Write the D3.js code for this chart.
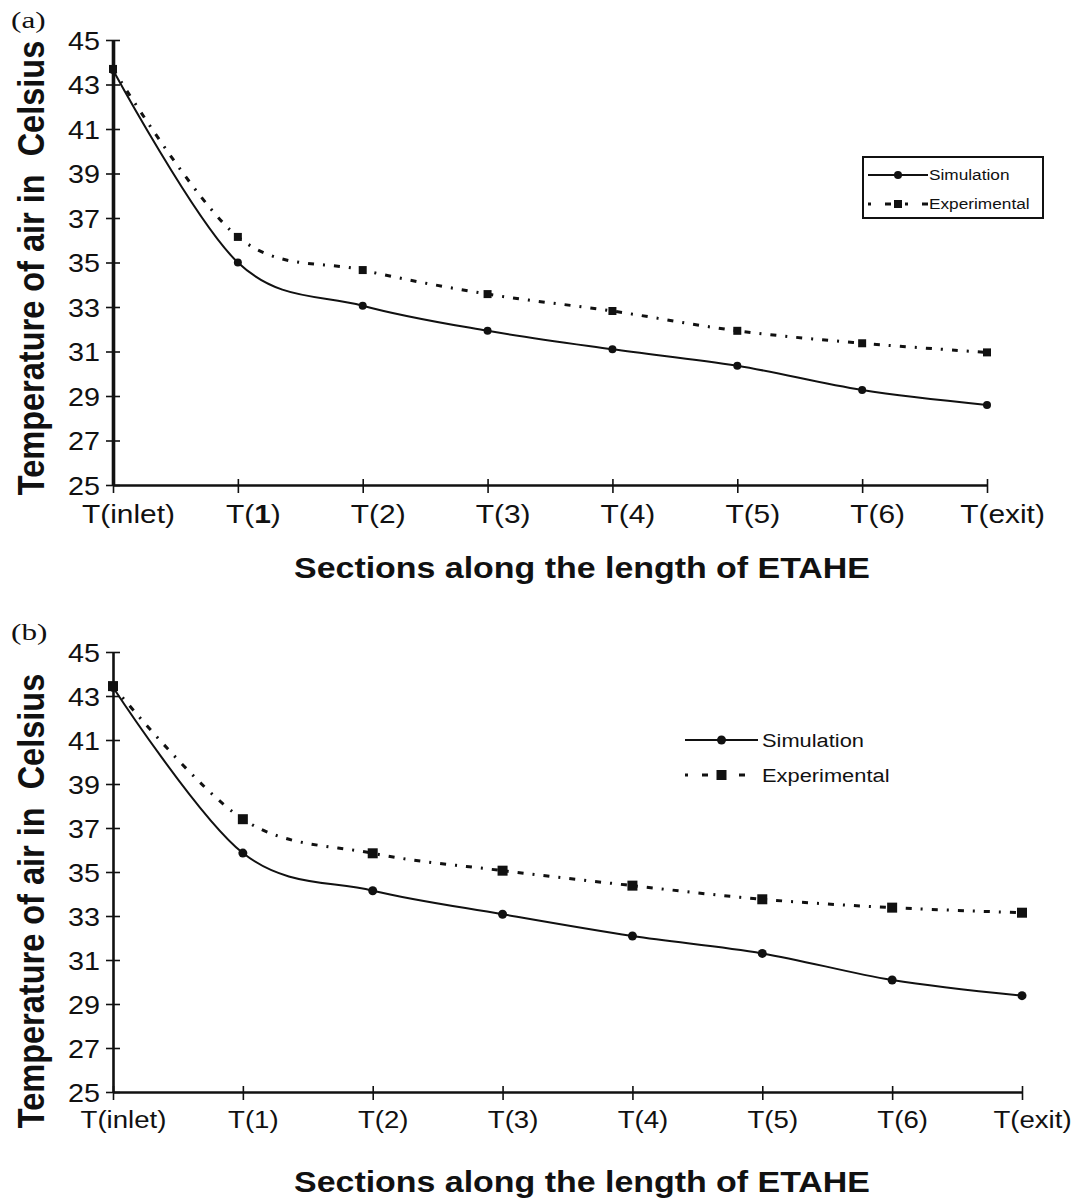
<!DOCTYPE html>
<html>
<head>
<meta charset="utf-8">
<script src="https://cdn.jsdelivr.net/npm/d3@7"></script>
<style>
  html, body { margin: 0; padding: 0; background: #fff; }
  svg { display: block; }
  text { font-family: "Liberation Sans", Arial, sans-serif; fill: #111; }
</style>
</head>
<body>
<svg id="fig" width="1082" height="1201"></svg>
<script>
// Sections along the earth-to-air heat exchanger
const sections = ["T(inlet)", "T(1)", "T(2)", "T(3)", "T(4)", "T(5)", "T(6)", "T(exit)"];
const yTicks = [25, 27, 29, 31, 33, 35, 37, 39, 41, 43, 45];

// Panel (a): air temperature, °C
const simA = [43.65, 35.0, 33.06, 31.93, 31.1, 30.36, 29.27, 28.6];
const expA = [43.7, 36.15, 34.66, 33.58, 32.82, 31.93, 31.37, 30.96];

// Panel (b): air temperature, °C
const simB = [43.4, 35.86, 34.15, 33.08, 32.09, 31.3, 30.09, 29.38];
const expB = [43.45, 37.4, 35.85, 35.06, 34.38, 33.76, 33.38, 33.15];

const svg = d3.select("#fig");
const SX = 1.15; // horizontal widening of the lettering

function panel(cfg) {
  const g = svg.append("g");
  const x = d3.scalePoint().domain(sections).range([cfg.x0, cfg.x1]);
  const y = d3.scaleLinear().domain([25, 45]).range([cfg.yBottom, cfg.yTop]);

  // panel letter
  g.append("text")
    .attr("transform", `translate(11,${cfg.letterY}) scale(1.3,1)`)
    .style("font-family", "'Liberation Serif', 'Times New Roman', serif")
    .style("font-size", "24px").text(cfg.letter);

  // y axis
  const yAxis = d3.axisLeft(y).tickValues(yTicks).tickSizeInner(7).tickSizeOuter(0);
  const ya = g.append("g").attr("transform", `translate(${cfg.x0},0)`).call(yAxis);
  ya.select(".domain").attr("stroke", "#111").attr("stroke-width", cfg.yAxisWidth);
  ya.selectAll(".tick line").attr("x1", -7).attr("x2", 7).attr("stroke", "#111").attr("stroke-width", 1.6);
  ya.selectAll(".tick text")
    .attr("x", -13 / SX).attr("dy", "0.36em")
    .attr("transform", `scale(${SX},1)`)
    .style("font-size", "25px").attr("fill", "#111")
    .style("font-family", "'Liberation Sans', Arial, sans-serif");

  // x axis
  const xAxis = d3.axisBottom(x).tickSizeInner(6).tickSizeOuter(0);
  const xa = g.append("g").attr("transform", `translate(0,${cfg.yBottom})`).call(xAxis);
  xa.select(".domain").attr("stroke", "#111").attr("stroke-width", 2.4);
  xa.selectAll(".tick line").attr("y1", -6).attr("y2", 8).attr("stroke", "#111").attr("stroke-width", 1.6);
  xa.selectAll(".tick text")
    .attr("y", cfg.xTickBase).attr("dy", 0)
    .attr("transform", `translate(${cfg.xTickShift},0) scale(${SX},1)`)
    .style("font-size", cfg.xTickFs + "px").attr("fill", "#111")
    .style("font-family", "'Liberation Sans', Arial, sans-serif");
  if (cfg.boldOne) {
    xa.selectAll(".tick text").filter(d => d === "T(1)").each(function () {
      const t = d3.select(this).text("");
      t.append("tspan").text("T(");
      t.append("tspan").style("font-weight", "bold").text("1");
      t.append("tspan").text(")");
    });
  }

  // axis titles
  g.append("text")
    .attr("transform", `translate(44,${cfg.yLabelY}) rotate(-90) scale(1,1.15)`)
    .attr("text-anchor", "middle").style("font-weight", "bold").style("font-size", "32.5px")
    .attr("xml:space", "preserve")
    .text("Temperature of air in  Celsius");
  g.append("text")
    .attr("transform", `translate(582,${cfg.xLabelY}) scale(1.17,1)`)
    .attr("text-anchor", "middle").style("font-weight", "bold").style("font-size", "29px")
    .text("Sections along the length of ETAHE");

  const line = d3.line().x((d, i) => x(sections[i])).y(d => y(d)).curve(d3.curveCardinal.tension(0));

  // experimental series: dash-dot with squares
  g.append("path").datum(cfg.exp).attr("d", line).attr("fill", "none")
    .attr("stroke", "#111").attr("stroke-width", cfg.expWidth)
    .attr("stroke-dasharray", "6,9,2,9");
  g.selectAll(".sq").data(cfg.exp).join("rect")
    .attr("x", (d, i) => x(sections[i]) - cfg.sq / 2).attr("y", d => y(d) - cfg.sq / 2)
    .attr("width", cfg.sq).attr("height", cfg.sq).attr("fill", "#111");

  // simulation series: solid with circles
  g.append("path").datum(cfg.sim).attr("d", line).attr("fill", "none")
    .attr("stroke", "#111").attr("stroke-width", 2);
  g.selectAll(".dot").data(cfg.sim).join("circle")
    .attr("cx", (d, i) => x(sections[i])).attr("cy", d => y(d)).attr("r", cfg.r).attr("fill", "#111");

  // legend
  const L = cfg.legend;
  const lg = g.append("g");
  if (L.box) {
    lg.append("rect").attr("x", L.box[0]).attr("y", L.box[1]).attr("width", L.box[2]).attr("height", L.box[3])
      .attr("fill", "#fff").attr("stroke", "#111").attr("stroke-width", 2);
  }
  lg.append("line").attr("x1", L.x1).attr("x2", L.x2).attr("y1", L.y1).attr("y2", L.y1)
    .attr("stroke", "#111").attr("stroke-width", 2);
  lg.append("circle").attr("cx", (L.x1 + L.x2) / 2).attr("cy", L.y1).attr("r", cfg.r).attr("fill", "#111");
  lg.append("line").attr("x1", L.x1).attr("x2", L.x2).attr("y1", L.y2).attr("y2", L.y2)
    .attr("stroke", "#111").attr("stroke-width", cfg.expWidth).attr("stroke-dasharray", "3,14,6,14");
  lg.append("rect").attr("x", (L.x1 + L.x2) / 2 - cfg.sq / 2).attr("y", L.y2 - cfg.sq / 2)
    .attr("width", cfg.sq).attr("height", cfg.sq).attr("fill", "#111");
  lg.append("text").attr("transform", `translate(${L.tx},${L.y1}) scale(${SX},1)`).attr("dy", "0.35em")
    .style("font-size", L.fs + "px").text("Simulation");
  lg.append("text").attr("transform", `translate(${L.tx},${L.y2}) scale(${SX},1)`).attr("dy", "0.35em")
    .style("font-size", L.fs + "px").text("Experimental");
}

panel({
  letter: "(a)", letterY: 28, x0: 113, x1: 987, yTop: 40, yBottom: 485, yAxisWidth: 3.6,
  yLabelY: 268, xLabelY: 578, xTickBase: 38, xTickShift: 15, xTickFs: 26, boldOne: true,
  sim: simA, exp: expA, r: 4, sq: 8, expWidth: 3,
  legend: { box: [863, 157, 180, 61], x1: 868, x2: 928, y1: 175, y2: 204, tx: 929, fs: 15 }
});

panel({
  letter: "(b)", letterY: 640, x0: 113, x1: 1022, yTop: 652, yBottom: 1092, yAxisWidth: 2.6,
  yLabelY: 901, xLabelY: 1192, xTickBase: 36, xTickShift: 10, xTickFs: 24, boldOne: false,
  sim: simB, exp: expB, r: 4.5, sq: 10, expWidth: 3,
  legend: { box: null, x1: 685, x2: 758, y1: 740, y2: 775, tx: 762, fs: 19 }
});
</script>
</body>
</html>
